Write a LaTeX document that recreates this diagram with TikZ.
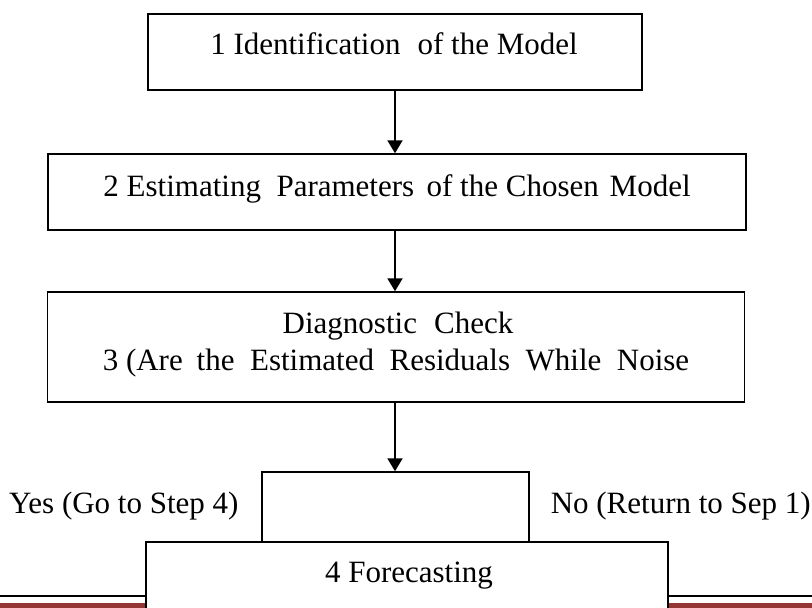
\documentclass[tikz,border=0pt]{standalone}
\usepackage{fontspec}
\setmainfont{Liberation Serif}
\usetikzlibrary{arrows.meta,calc}
\definecolor{bandred}{RGB}{148,54,52}
\tikzset{
  stagebox/.style={draw=black, line width=1.5pt, fill=white, rectangle, inner sep=0pt},
  lbl/.style={font=\fontsize{31}{37}\selectfont, inner sep=0pt, anchor=base},
  flow/.style={line width=2pt, -{Triangle[length=13pt,width=15pt]}},
}
\newcommand{\wsp}[1]{\hspace{#1em}}
\begin{document}
\begin{tikzpicture}[x=1pt,y=-1pt]
  \useasboundingbox (0,0) rectangle (812,608);
  \clip (0,0) rectangle (812,608);

  % footer rules
  \draw[line width=2pt] (0,596) -- (812,596);
  \fill[bandred] (0,603) rectangle (812,608);

  % stage boxes
  \node[stagebox, minimum width=494pt, minimum height=76pt] (b1) at (395,52) {};
  \node[stagebox, minimum width=698pt, minimum height=76pt] (b2) at (397,192) {};
  \node[stagebox, minimum width=697pt, minimum height=110pt] (b3) at (396,347) {};
  \node[stagebox, minimum width=267pt, minimum height=70pt] (b4) at (395.5,507) {};
  \node[stagebox, minimum width=522pt, minimum height=100pt] (b5) at (407,592) {};

  % box texts
  \node[lbl] (t1) at (394,54) {1 Identification\wsp{0.3} of the Model};
  \node[lbl] (t2) at (397,196) {2 Estimating\wsp{0.25} Parameters\wsp{0.15} of the Chosen\wsp{0.1} Model};
  \node[lbl] (t3a) at (398,333) {Diagnostic\wsp{0.3} Check};
  \node[lbl] (t3b) at (396,370) {3 (Are\wsp{0.2} the\wsp{0.25} Estimated\wsp{0.25} Residuals\wsp{0.25} While\wsp{0.25} Noise};
  \node[lbl] (t5) at (409,582) {4 Forecasting};

  % branch labels
  \node[lbl, anchor=base west] (yes) at (9,513) {Yes (Go to Step 4)};
  \node[lbl, anchor=base east] (no) at (811,513) {No (Return to Sep 1)};

  % connectors
  \draw[flow] (b1.south) -- (b1.south |- b2.north);
  \draw[flow] (b2.south -| b1.south) -- (b1.south |- b3.north);
  \draw[flow] (b3.south -| b1.south) -- (b1.south |- b4.north);
\end{tikzpicture}
\end{document}
